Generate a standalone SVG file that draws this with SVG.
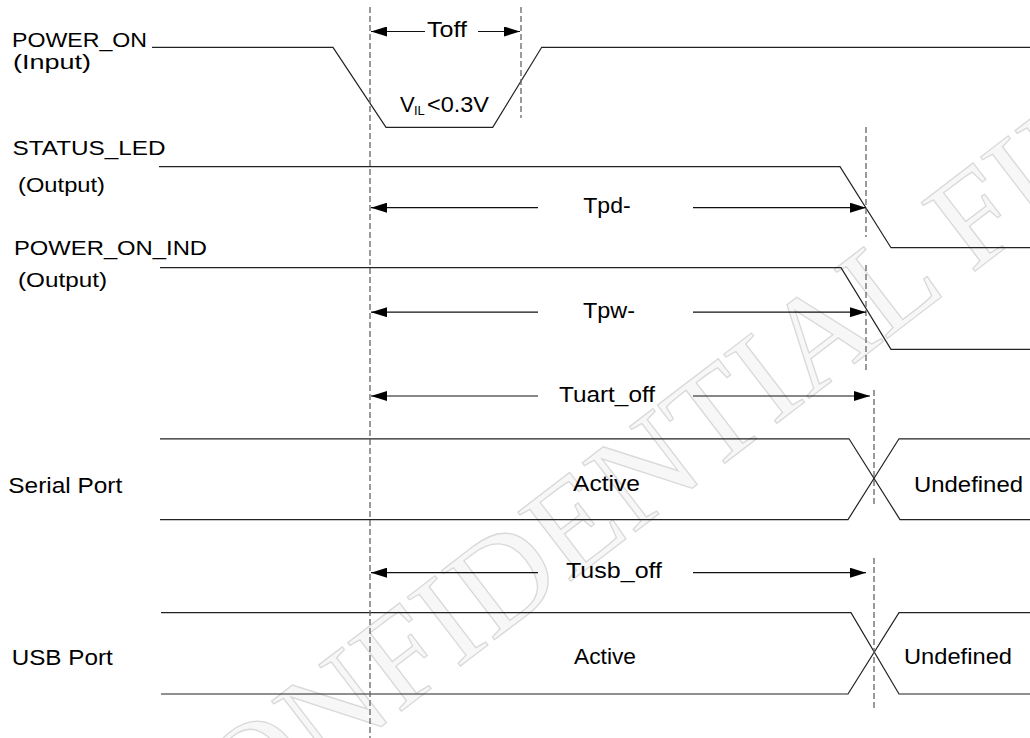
<svg xmlns="http://www.w3.org/2000/svg" width="1030" height="738" viewBox="0 0 1030 738">
<style>
  .bg{fill:#ffffff}
  .sig{fill:none;stroke:#222;stroke-width:1.2}
  .dash{fill:none;stroke:#666;stroke-width:1.3;stroke-dasharray:6 3}
  .arr{fill:none;stroke:#111;stroke-width:1.2}
  .lbl{font-family:"Liberation Sans",Arial,sans-serif;font-size:20px;fill:#000}
  .ann{font-family:"Liberation Sans",Arial,sans-serif;font-size:22px;fill:#000}
  .sub{font-family:"Liberation Sans",Arial,sans-serif;font-size:13px;fill:#000}
  .wm{font-family:"Liberation Serif","Times New Roman",serif;font-size:133px;fill:#f7f7f7;stroke:#d9d9d9;stroke-width:1.3}
</style>
<defs>
  <marker id="ah" viewBox="0 0 16 10" refX="16" refY="5" markerWidth="16" markerHeight="10" markerUnits="userSpaceOnUse" orient="auto">
    <path d="M0,0 L16,5 L0,10 z" fill="#000"/>
  </marker>
</defs>
<rect class="bg" x="0" y="0" width="1030" height="738"/>

<g id="watermark">
  <text class="wm" transform="translate(175,885) rotate(-37.5)">CONFIDENTIAL FILE</text>
</g>

<g id="power_on">
  <text class="lbl" x="12" y="46.5" textLength="135" lengthAdjust="spacingAndGlyphs">POWER_ON</text>
  <text class="lbl" x="13" y="69" textLength="78" lengthAdjust="spacingAndGlyphs">(Input)</text>
  <path class="sig" d="M152,47.3 H333 L386,127.3 H492.7 L541.7,47.3 H1030"/>
  <text class="ann" x="400" y="111.5">V</text>
  <text class="sub" x="414" y="114.5">IL</text>
  <text class="ann" x="427" y="111.5" textLength="62" lengthAdjust="spacingAndGlyphs">&lt;0.3V</text>
</g>

<g id="status_led">
  <text class="lbl" x="12.5" y="155" textLength="153" lengthAdjust="spacingAndGlyphs">STATUS_LED</text>
  <text class="lbl" x="18" y="191.5" textLength="87" lengthAdjust="spacingAndGlyphs">(Output)</text>
  <path class="sig" d="M159,166.7 H840 L891,247.7 H1030"/>
</g>

<g id="power_on_ind">
  <text class="lbl" x="14" y="255" textLength="193" lengthAdjust="spacingAndGlyphs">POWER_ON_IND</text>
  <text class="lbl" x="18" y="286.5" textLength="89" lengthAdjust="spacingAndGlyphs">(Output)</text>
  <path class="sig" d="M160,267.7 H841 L891,349.3 H1030"/>
</g>

<g id="serial_port">
  <text class="ann" x="8.3" y="492.7" textLength="114" lengthAdjust="spacingAndGlyphs">Serial Port</text>
  <path class="sig" d="M160,438.8 H849 L900,519.6 H1030"/>
  <path class="sig" d="M160,519.6 H848 L899,438.8 H1030"/>
  <text class="ann" x="573" y="490.5" textLength="67" lengthAdjust="spacingAndGlyphs">Active</text>
  <text class="ann" x="914" y="491.5" textLength="109" lengthAdjust="spacingAndGlyphs">Undefined</text>
</g>

<g id="usb_port">
  <text class="ann" x="11.7" y="665" textLength="101" lengthAdjust="spacingAndGlyphs">USB Port</text>
  <path class="sig" d="M161,612.7 H851 L899,694 H1030"/>
  <path class="sig" d="M161,694 H848 L899,612.7 H1030"/>
  <text class="ann" x="574" y="664" textLength="62" lengthAdjust="spacingAndGlyphs">Active</text>
  <text class="ann" x="904" y="664" textLength="108" lengthAdjust="spacingAndGlyphs">Undefined</text>
</g>

<g id="connectors">
  <line class="dash" x1="370" y1="7" x2="370" y2="738"/>
  <line class="dash" x1="521" y1="7" x2="521" y2="118"/>
  <line class="dash" x1="866" y1="127" x2="866" y2="237"/>
  <line class="dash" x1="866" y1="265" x2="866" y2="370"/>
  <line class="dash" x1="874" y1="390" x2="874" y2="505"/>
  <line class="dash" x1="874" y1="558" x2="874" y2="710"/>

  <line class="arr" x1="425" y1="31.5" x2="371" y2="31.5" marker-end="url(#ah)"/>
  <line class="arr" x1="478" y1="31.5" x2="520" y2="31.5" marker-end="url(#ah)"/>
  <text class="ann" x="427" y="37.3" textLength="40" lengthAdjust="spacingAndGlyphs">Toff</text>

  <line class="arr" x1="538" y1="207.7" x2="371" y2="207.7" marker-end="url(#ah)"/>
  <line class="arr" x1="693" y1="207.7" x2="866" y2="207.7" marker-end="url(#ah)"/>
  <text class="ann" x="583.3" y="213.3" textLength="47.4" lengthAdjust="spacingAndGlyphs">Tpd-</text>

  <line class="arr" x1="538" y1="312.2" x2="371" y2="312.2" marker-end="url(#ah)"/>
  <line class="arr" x1="693" y1="312.2" x2="866" y2="312.2" marker-end="url(#ah)"/>
  <text class="ann" x="583" y="318" textLength="52" lengthAdjust="spacingAndGlyphs">Tpw-</text>

  <line class="arr" x1="538" y1="396" x2="371" y2="396" marker-end="url(#ah)"/>
  <line class="arr" x1="693" y1="396" x2="870" y2="396" marker-end="url(#ah)"/>
  <text class="ann" x="559" y="401.7" textLength="96" lengthAdjust="spacingAndGlyphs">Tuart_off</text>

  <line class="arr" x1="538" y1="572.7" x2="371" y2="572.7" marker-end="url(#ah)"/>
  <line class="arr" x1="693" y1="572.7" x2="866" y2="572.7" marker-end="url(#ah)"/>
  <text class="ann" x="566" y="578.3" textLength="96" lengthAdjust="spacingAndGlyphs">Tusb_off</text>
</g>
</svg>
